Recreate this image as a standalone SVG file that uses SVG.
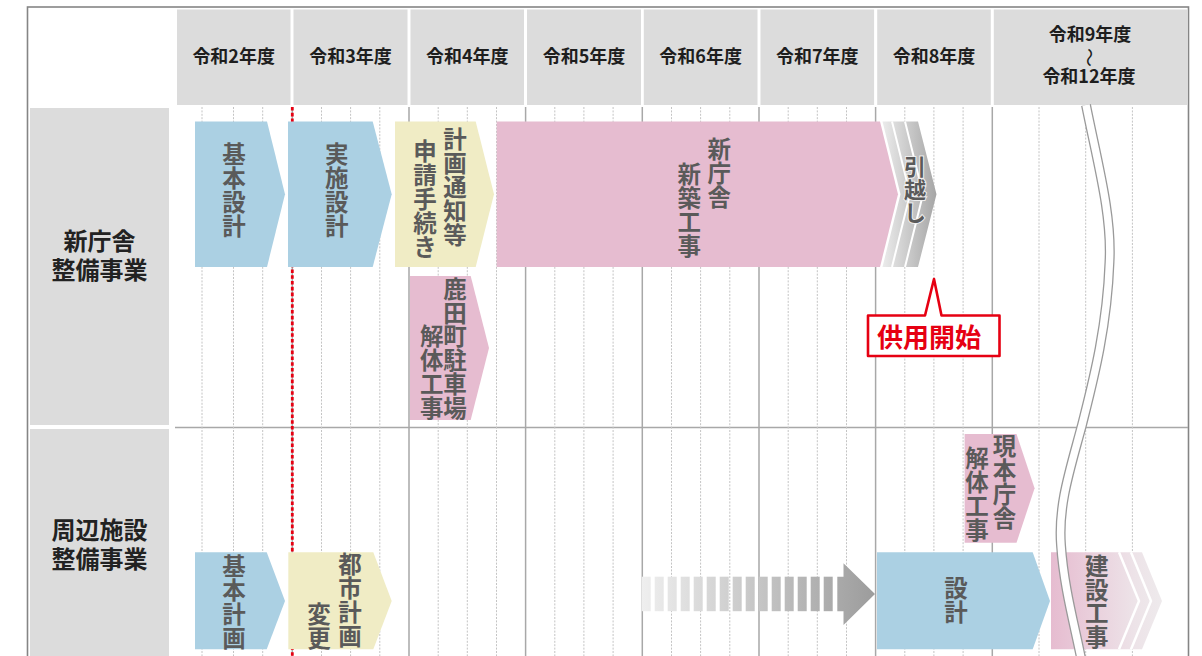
<svg xmlns="http://www.w3.org/2000/svg" width="1202" height="656" viewBox="0 0 1202 656">
<style>
.hd{fill:#dcdcdc}
.ht{font-family:"Noto Sans CJK JP","Noto Sans CJK SC",sans-serif;font-size:18px;font-weight:bold;fill:#1e1e1e;text-anchor:middle}
.lt{font-family:"Noto Sans CJK JP","Noto Sans CJK SC",sans-serif;font-size:24px;font-weight:bold;fill:#222;text-anchor:middle}
.bt{font-family:"Noto Sans CJK JP","Noto Sans CJK SC",sans-serif;font-size:23.5px;font-weight:bold;fill:#5a5a5a;text-anchor:middle}
.yl{stroke:#a8a8a8;stroke-width:1.5;fill:none}
.ql{stroke:#c4c4c4;stroke-width:1;stroke-dasharray:2 1.4;fill:none}
.blue{fill:#abd0e3}
.yel{fill:#f0ecc5}
.pink{fill:#e6bcd0}
.red{stroke:#e60012}
</style>
<defs>
<linearGradient id="gMove" gradientUnits="userSpaceOnUse" x1="882" y1="0" x2="936" y2="0">
<stop offset="0" stop-color="#ececec"/><stop offset="1" stop-color="#a6a6a6"/>
</linearGradient>
<linearGradient id="gArrow" gradientUnits="userSpaceOnUse" x1="641" y1="0" x2="875" y2="0">
<stop offset="0" stop-color="#efefef"/><stop offset="1" stop-color="#9c9c9c"/>
</linearGradient>
<linearGradient id="gBuild" gradientUnits="userSpaceOnUse" x1="1051" y1="0" x2="1162" y2="0">
<stop offset="0" stop-color="#e6bcd0"/><stop offset="0.75" stop-color="#ede3e8"/><stop offset="1" stop-color="#eeeaec"/>
</linearGradient>
</defs>
<rect x="0" y="0" width="1202" height="656" fill="#fff"/>
<rect x="27.5" y="7" width="1161" height="670" fill="#fff" stroke="#858585" stroke-width="1.6"/>

<g id="header">
<rect class="hd" x="177" y="9.5" width="113.5" height="95.5"/>
<rect class="hd" x="293.5" y="9.5" width="114" height="95.5"/>
<rect class="hd" x="410.5" y="9.5" width="113.5" height="95.5"/>
<rect class="hd" x="527" y="9.5" width="114" height="95.5"/>
<rect class="hd" x="643.8" y="9.5" width="113.7" height="95.5"/>
<rect class="hd" x="760.5" y="9.5" width="113.6" height="95.5"/>
<rect class="hd" x="877.2" y="9.5" width="113.6" height="95.5"/>
<rect class="hd" x="993.8" y="9.5" width="193.2" height="95.5"/>
<text class="ht" x="233.7" y="63">令和2年度</text>
<text class="ht" x="350.5" y="63">令和3年度</text>
<text class="ht" x="467.3" y="63">令和4年度</text>
<text class="ht" x="584" y="63">令和5年度</text>
<text class="ht" x="700.6" y="63">令和6年度</text>
<text class="ht" x="817.3" y="63">令和7年度</text>
<text class="ht" x="934" y="63">令和8年度</text>
<text class="ht" x="1090" y="41">令和9年度</text>
<text class="ht" transform="translate(1090,57.5) rotate(90)" style="font-size:19px;font-weight:normal" dominant-baseline="central">〜</text>
<text class="ht" x="1089" y="82.5">令和12年度</text>
</g>

<g id="label-shinchosha">
<rect class="hd" x="30" y="108" width="139" height="317"/>
<text class="lt" x="99.5" y="249.5">新庁舎</text>
<text class="lt" x="99.5" y="278.5">整備事業</text>
</g>
<g id="label-shuhen">
<rect class="hd" x="30" y="429" width="139" height="240"/>
<text class="lt" x="99.5" y="539">周辺施設</text>
<text class="lt" x="99.5" y="567.5">整備事業</text>
</g>

<g id="grid">
<line x1="175" y1="427.5" x2="1188" y2="427.5" class="yl"/>
<g class="ql">
<path d="M202,107V656M233.5,107V656M262.7,107V656M321.5,107V656M350.6,107V656M379.8,107V656M438.2,107V656M467.3,107V656M496.5,107V656M554.8,107V656M583.9,107V656M613.1,107V656M671.5,107V656M700.6,107V656M729.8,107V656M788.2,107V656M817.3,107V656M846.5,107V656M904.8,107V656M933.9,107V656M963.1,107V656M1039,107V656M1085.7,107V656M1132.4,107V656"/>
</g>
<path class="yl" d="M292.3,107V656M409,107V656M525.6,107V656M642.3,107V656M759,107V656M875.6,107V656M992.3,107V656"/>
<line x1="292.3" y1="107" x2="292.3" y2="656" class="red" stroke-width="2.8" stroke-dasharray="3.6 2.2"/>
</g>

<g id="bar-kihonsekkei">
<polygon class="blue" points="195,121.5 267,121.5 285,194.2 267,267 195,267"/>
<text class="bt"><tspan x="234" y="163">基</tspan><tspan x="234" y="187">本</tspan><tspan x="234" y="211">設</tspan><tspan x="234" y="235">計</tspan></text>
</g>
<g id="bar-jisshisekkei">
<polygon class="blue" points="288,121.5 372.7,121.5 391.7,194.2 372.7,267 288,267"/>
<text class="bt"><tspan x="336.7" y="163">実</tspan><tspan x="336.7" y="187">施</tspan><tspan x="336.7" y="211">設</tspan><tspan x="336.7" y="235">計</tspan></text>
</g>
<g id="bar-keikakutsuchi">
<polygon class="yel" points="395,121.5 475.7,121.5 494,194.2 475.7,267 395,267"/>
<text class="bt"><tspan x="455" y="148">計</tspan><tspan x="455" y="172">画</tspan><tspan x="455" y="196">通</tspan><tspan x="455" y="220">知</tspan><tspan x="455" y="244">等</tspan></text>
<text class="bt"><tspan x="425" y="160">申</tspan><tspan x="425" y="184">請</tspan><tspan x="425" y="208">手</tspan><tspan x="425" y="232">続</tspan><tspan x="425" y="256">き</tspan></text>
</g>
<g id="bar-shinchiku">
<polygon class="pink" points="496.7,121.5 880,121.5 898,194.2 880,267 496.7,267"/>
<text class="bt"><tspan x="719.3" y="158">新</tspan><tspan x="719.3" y="182">庁</tspan><tspan x="719.3" y="206">舎</tspan></text>
<text class="bt"><tspan x="689.3" y="183">新</tspan><tspan x="689.3" y="207">築</tspan><tspan x="689.3" y="231">工</tspan><tspan x="689.3" y="255">事</tspan></text>
</g>
<g id="bar-hikkoshi">
<polygon fill="url(#gMove)" points="882.5,121.5 918,121.5 936.5,194.2 918,267 882.5,267 900.5,194.2"/>
<polyline points="892,121.5 910,194.2 892,267" fill="none" stroke="#fff" stroke-width="2"/>
<polyline points="905,121.5 923,194.2 905,267" fill="none" stroke="#fff" stroke-width="2"/>
<text class="bt" style="font-size:22px;stroke:#eeeeee;stroke-width:2px;paint-order:stroke"><tspan x="915" y="175">引</tspan><tspan x="915" y="198">越</tspan><tspan x="915" y="221">し</tspan></text>
</g>
<g id="bar-shikatacho">
<polygon class="pink" points="410,276 470.7,276 489,348 470.7,420 410,420"/>
<text class="bt"><tspan x="455" y="298">鹿</tspan><tspan x="455" y="321.7">田</tspan><tspan x="455" y="345.4">町</tspan><tspan x="455" y="369.1">駐</tspan><tspan x="455" y="392.8">車</tspan><tspan x="455" y="416.5">場</tspan></text>
<text class="bt"><tspan x="431.7" y="345.4">解</tspan><tspan x="431.7" y="369.1">体</tspan><tspan x="431.7" y="392.8">工</tspan><tspan x="431.7" y="416.5">事</tspan></text>
</g>
<g id="callout-kyoyo">
<path d="M868,315.5 H925 L934,279 L941.5,315.5 H999.5 V356 H868 Z" fill="#fff" stroke="#e60012" stroke-width="2.6" stroke-linejoin="round"/>
<text x="929" y="347" text-anchor="middle" style="font-family:'Noto Sans CJK JP','Noto Sans CJK SC',sans-serif;font-size:26px;font-weight:bold;fill:#e60012">供用開始</text>
</g>

<g id="bar-kihonkeikaku">
<polygon class="blue" points="195,552.3 266.7,552.3 285,601 266.7,649.3 195,649.3"/>
<text class="bt"><tspan x="234" y="575">基</tspan><tspan x="234" y="599">本</tspan><tspan x="234" y="623">計</tspan><tspan x="234" y="647">画</tspan></text>
</g>
<g id="bar-toshikeikaku">
<polygon class="yel" points="288.3,552.3 373.3,552.3 391.7,601 373.3,649.3 288.3,649.3"/>
<text class="bt"><tspan x="350" y="573">都</tspan><tspan x="350" y="597">市</tspan><tspan x="350" y="621">計</tspan><tspan x="350" y="645">画</tspan></text>
<text class="bt"><tspan x="319" y="623">変</tspan><tspan x="319" y="647">更</tspan></text>
</g>
<g id="bar-genhonchosha">
<polygon class="pink" points="964.6,434 1016.5,434 1034.6,488.3 1016.5,542.7 964.6,542.7"/>
<text class="bt"><tspan x="1004.6" y="455">現</tspan><tspan x="1004.6" y="479">本</tspan><tspan x="1004.6" y="503">庁</tspan><tspan x="1004.6" y="527">舎</tspan></text>
<text class="bt"><tspan x="977" y="467">解</tspan><tspan x="977" y="491">体</tspan><tspan x="977" y="515">工</tspan><tspan x="977" y="539">事</tspan></text>
</g>
<g id="arrow-transition">
<g fill="url(#gArrow)">
<rect x="641.7" y="576.7" width="9" height="34.5"/><rect x="654.7" y="576.7" width="9" height="34.5"/><rect x="667.7" y="576.7" width="9" height="34.5"/><rect x="680.7" y="576.7" width="9" height="34.5"/><rect x="693.7" y="576.7" width="9" height="34.5"/><rect x="706.7" y="576.7" width="9" height="34.5"/><rect x="719.7" y="576.7" width="9" height="34.5"/><rect x="732.7" y="576.7" width="9" height="34.5"/><rect x="745.7" y="576.7" width="9" height="34.5"/><rect x="758.7" y="576.7" width="9" height="34.5"/><rect x="771.7" y="576.7" width="9" height="34.5"/><rect x="784.7" y="576.7" width="9" height="34.5"/><rect x="797.7" y="576.7" width="9" height="34.5"/><rect x="810.7" y="576.7" width="9" height="34.5"/><rect x="823.7" y="576.7" width="9" height="34.5"/>
<polygon points="837.3,576.7 843.5,576.7 843.5,563.3 875,594 843.5,625 843.5,611.2 837.3,611.2"/>
</g>
</g>
<g id="bar-sekkei">
<polygon class="blue" points="877,552.3 1032.7,552.3 1050,601 1032.7,649.3 877,649.3"/>
<text class="bt"><tspan x="956" y="597">設</tspan><tspan x="956" y="621">計</tspan></text>
</g>
<g id="bar-kensetsu">
<polygon fill="url(#gBuild)" points="1051,552.3 1142,552.3 1162,601 1142,649.3 1051,649.3"/>
<polyline points="1119,552.3 1139,601 1119,649.3" fill="none" stroke="#fff" stroke-width="2.5"/>
<polyline points="1131,552.3 1151,601 1131,649.3" fill="none" stroke="#fff" stroke-width="2.5"/>
</g>

<g id="break-wave">
<path d="M1086,105 C1098,165 1112,215 1109.5,262 C1107,330 1092,385 1082,425 C1070,470 1058,505 1061,545 C1064,590 1076,630 1083,668" fill="none" stroke="#9a9a9a" stroke-width="10"/>
<path d="M1086,105 C1098,165 1112,215 1109.5,262 C1107,330 1092,385 1082,425 C1070,470 1058,505 1061,545 C1064,590 1076,630 1083,668" fill="none" stroke="#fff" stroke-width="7.4"/>
</g>
<g id="label-kensetsu">
<text class="bt"><tspan x="1096.7" y="575">建</tspan><tspan x="1096.7" y="598.7">設</tspan><tspan x="1096.7" y="622.4">工</tspan><tspan x="1096.7" y="646.1">事</tspan></text>
</g>
</svg>
